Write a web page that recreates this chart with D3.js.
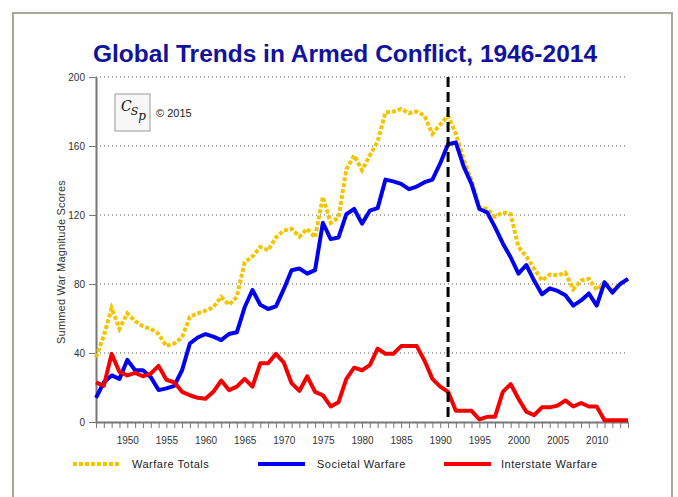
<!DOCTYPE html>
<html>
<head>
<meta charset="utf-8">
<script src="https://cdnjs.cloudflare.com/ajax/libs/d3/7.8.5/d3.min.js"></script>
<style>
  body { margin: 0; background: #fff; }
  svg { display: block; font-family: "Liberation Sans", Arial, sans-serif; }
  .axis text { font-size: 10px; fill: #333; }
  .axis path, .axis line { stroke: #777; }
</style>
</head>
<body>
<script>
// years 1946-2014
var years = d3.range(1946, 2015);

var societal = [14, 23, 27, 25, 36, 30, 30, 26, 18.5, 19.5,
  21, 30, 45.5, 49, 51, 49.5, 47.5, 51, 52, 66.5,
  76.5, 68, 65.5, 67, 77, 88, 89, 86, 88, 115.5,
  106, 107, 120.5, 123.5, 115, 122.5, 124, 140.5, 139.5, 138,
  135, 136.5, 139, 140.5, 150, 161, 162, 148, 138, 123.5,
  121.5, 113, 103.5, 95.5, 86, 91, 82, 74, 77.5, 76,
  73.5, 67.5, 70.5, 74.5, 67.5, 81, 75, 80, 83];

var interstate = [23, 21, 39.5, 29, 27, 28.5, 26.5, 28, 32.5, 24.5,
  23, 17.5, 15.5, 14, 13.5, 17.5, 24, 18.5, 20.5, 25,
  20.5, 34, 34, 39.5, 34.5, 22.5, 18, 26.5, 17.5, 15.5,
  9, 11.5, 25, 31.5, 30, 33, 42.5, 39.5, 39.5, 44,
  44, 44, 35.5, 25, 20.5, 17.5, 6.5, 6.5, 6.5, 1.5,
  3, 3, 17.5, 22, 13.5, 6, 4, 8.5, 8.5, 9.5,
  12.5, 9, 11, 9, 9, 1, 1, 1, 1];

var totals = [37.5, 50, 66, 54, 63, 58.5, 55.5, 54, 51, 44,
  45.5, 49, 61, 63, 64.5, 66.5, 72.5, 68, 72.5, 92.5,
  96, 101.5, 99.5, 107, 111, 112, 107.5, 112, 107, 130.5,
  115.5, 118.5, 146.5, 154.5, 146, 154.5, 162.5, 179.5, 180, 181.5,
  179, 180, 177.5, 167, 172.5, 177.5, 167, 152, 140, 124.5,
  123.5, 119, 121.5, 120.5, 101.5, 96, 89, 82, 85.5, 85,
  86.5, 77, 82, 83, 76.5, 81, 76.5, 80, 83];

var yTicks = [0, 40, 80, 120, 160, 200];
var markerYear = 1991;

var seriesNames = ["Warfare Totals", "Societal Warfare", "Interstate Warfare"];
var seriesColors = ["#f5c400", "#0000f2", "#f50000"];

var width = 678, height = 497;

var x = d3.scaleLinear().domain([1946, 2014]).range([96, 628]);
var y = d3.scaleLinear().domain([0, 200]).range([422, 77]);

var svg = d3.select("body").append("svg")
  .attr("width", width)
  .attr("height", height);

// outer frame
svg.append("rect")
  .attr("x", 13).attr("y", 13)
  .attr("width", 659).attr("height", 500)
  .attr("fill", "none")
  .attr("stroke", "#aaa89c")
  .attr("stroke-width", 2);

svg.append("text")
  .attr("x", 345).attr("y", 62)
  .attr("text-anchor", "middle")
  .attr("font-size", 24)
  .attr("font-weight", "bold")
  .attr("fill", "#12129c")
  .attr("textLength", 504)
  .attr("lengthAdjust", "spacingAndGlyphs")
  .text("Global Trends in Armed Conflict, 1946-2014");

// grid lines
svg.append("g")
  .selectAll("line")
  .data(yTicks.slice(1))
  .enter().append("line")
  .attr("x1", x(1946)).attr("x2", x(2014))
  .attr("y1", function(d) { return y(d); })
  .attr("y2", function(d) { return y(d); })
  .attr("stroke", "#555")
  .attr("stroke-width", 1)
  .attr("stroke-dasharray", "1,3");

// y axis
var yAxis = svg.append("g")
  .attr("class", "axis")
  .attr("transform", "translate(" + x(1946) + ",0)")
  .call(d3.axisLeft(y).tickValues(yTicks).tickSize(7).tickPadding(4).tickSizeOuter(0));
yAxis.select(".domain").attr("stroke-width", 2).attr("stroke", "#888");

svg.append("text")
  .attr("transform", "translate(65,262) rotate(-90)")
  .attr("text-anchor", "middle")
  .attr("font-size", 11)
  .attr("fill", "#333")
  .attr("letter-spacing", 0.2)
  .text("Summed War Magnitude Scores");

// x axis
var xAxis = svg.append("g")
  .attr("class", "axis")
  .attr("transform", "translate(0," + y(0) + ")")
  .call(d3.axisBottom(x).tickValues(years).tickSize(6).tickPadding(9).tickSizeOuter(0)
    .tickFormat(function(d) { return d % 5 == 0 && d < 2014 ? d : ""; }));
xAxis.select(".domain").attr("stroke-width", 2).attr("stroke", "#888");
xAxis.selectAll(".tick line").attr("stroke", "#555");

// logo
svg.append("rect")
  .attr("x", 115).attr("y", 94)
  .attr("width", 35).attr("height", 37)
  .attr("fill", "#f7f7f7")
  .attr("stroke", "#999");
var logo = svg.append("text")
  .attr("x", 121).attr("y", 111)
  .attr("font-family", "'DejaVu Serif', serif")
  .attr("font-style", "italic")
  .attr("font-size", 14)
  .attr("fill", "#111");
logo.append("tspan").text("C");
logo.append("tspan").attr("dy", 4).attr("dx", -1).attr("font-size", 11).text("S");
logo.append("tspan").attr("dy", 5).attr("font-size", 12).text("p");
svg.append("text")
  .attr("x", 156).attr("y", 117)
  .attr("font-size", 11)
  .attr("fill", "#222")
  .text("\u00a9 2015");

var line = d3.line()
  .x(function(d, i) { return x(years[i]); })
  .y(function(d) { return y(d); });

svg.append("path")
  .datum(totals)
  .attr("d", line)
  .attr("fill", "none")
  .attr("stroke", seriesColors[0])
  .attr("stroke-width", 4)
  .attr("stroke-dasharray", "4,2");

svg.append("path")
  .datum(societal)
  .attr("d", line)
  .attr("fill", "none")
  .attr("stroke", seriesColors[1])
  .attr("stroke-width", 4)
  .attr("stroke-linejoin", "round");

svg.append("path")
  .datum(interstate)
  .attr("d", line)
  .attr("fill", "none")
  .attr("stroke", seriesColors[2])
  .attr("stroke-width", 4)
  .attr("stroke-linejoin", "round");

// 1991 marker
svg.append("line")
  .attr("x1", x(markerYear)).attr("x2", x(markerYear))
  .attr("y1", y(200)).attr("y2", y(0))
  .attr("stroke", "#000")
  .attr("stroke-width", 3)
  .attr("stroke-dasharray", "10,5");

// legend
var legX = [73, 258, 444];
var leg = svg.append("g").selectAll("g")
  .data(seriesNames)
  .enter().append("g")
  .attr("transform", function(d, i) { return "translate(" + legX[i] + ",464)"; });

leg.append("line")
  .attr("x1", 0).attr("x2", 47)
  .attr("stroke", function(d, i) { return seriesColors[i]; })
  .attr("stroke-width", 4)
  .attr("stroke-dasharray", function(d, i) { return i == 0 ? "4,2" : null; });

leg.append("text")
  .attr("x", function(d, i) { return i == 2 ? 57 : 59; })
  .attr("y", 4)
  .attr("font-size", 11)
  .attr("fill", "#222")
  .attr("letter-spacing", 0.5)
  .text(function(d) { return d; });
</script>
</body>
</html>
